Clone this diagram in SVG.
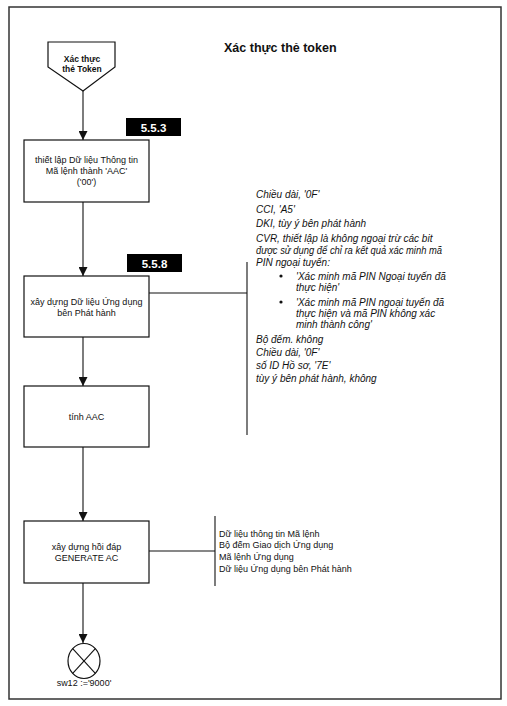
<svg xmlns="http://www.w3.org/2000/svg" width="507" height="706" viewBox="0 0 507 706">
<defs>
<style>
.ln{stroke:#111;stroke-width:1.1;fill:none}
.box{fill:#fff;stroke:#111;stroke-width:1.2}
.t{font-family:"Liberation Sans",Arial,sans-serif;font-size:9px;fill:#111}
.c{text-anchor:middle}
.it{font-family:"Liberation Sans",Arial,sans-serif;font-size:10px;font-style:italic;fill:#111}
.b{font-family:"Liberation Sans",Arial,sans-serif;font-weight:bold;fill:#111}
.lab{fill:#000}
.labt{font-family:"Liberation Sans",Arial,sans-serif;font-weight:bold;font-size:11.5px;fill:#fff;text-anchor:middle}
</style>
<marker id="ah" viewBox="0 0 10 10" refX="10" refY="5" markerWidth="9" markerHeight="9" markerUnits="userSpaceOnUse" orient="auto">
<path d="M0,0 L10,5 L0,10 z" fill="#111"/>
</marker>
</defs>
<rect x="0" y="0" width="507" height="706" fill="#fff"/>
<rect x="9" y="7" width="492" height="692" fill="none" stroke="#333" stroke-width="1.5"/>
<text class="b" x="224" y="52" font-size="12.5">Xác thực thẻ token</text>

<g id="connectors">
<line class="ln" x1="83" y1="91" x2="83" y2="140" marker-end="url(#ah)"/>
<line class="ln" x1="83" y1="202" x2="83" y2="276" marker-end="url(#ah)"/>
<line class="ln" x1="83" y1="337" x2="83" y2="386" marker-end="url(#ah)"/>
<line class="ln" x1="83" y1="447" x2="83" y2="521" marker-end="url(#ah)"/>
<line class="ln" x1="83" y1="583" x2="83" y2="643" marker-end="url(#ah)"/>
<line class="ln" x1="149" y1="293" x2="247" y2="293"/>
<line class="ln" x1="247" y1="262" x2="247" y2="435"/>
<line class="ln" x1="149" y1="551" x2="215" y2="551"/>
<line class="ln" x1="215" y1="516" x2="215" y2="586"/>
</g>

<g id="start">
<polygon class="box" points="48,42 115,42 115,67 83,91 48,67"/>
<text class="b c" x="82" y="62" font-size="8.5">Xác thực</text>
<text class="b c" x="82" y="72" font-size="8.5">thẻ Token</text>
</g>

<g id="label553">
<rect class="lab" x="126" y="118" width="55" height="18"/>
<text class="labt" x="153.5" y="131.5">5.5.3</text>
</g>

<g id="box1">
<rect class="box" x="24" y="140" width="125" height="62"/>
<text class="t c" x="86.5" y="163">thiết lập Dữ liệu Thông tin</text>
<text class="t c" x="86.5" y="174">Mã lệnh thành 'AAC'</text>
<text class="t c" x="86.5" y="185">('00')</text>
</g>

<g id="label558">
<rect class="lab" x="127" y="254" width="55" height="18"/>
<text class="labt" x="154.5" y="267.5">5.5.8</text>
</g>

<g id="box2">
<rect class="box" x="24" y="276" width="125" height="61"/>
<text class="t c" x="86.5" y="304.5">xây dựng Dữ liệu Ứng dụng</text>
<text class="t c" x="86.5" y="315.5">bên Phát hành</text>
</g>

<g id="notes1">
<text class="it" x="256" y="198">Chiều dài, '0F'</text>
<text class="it" x="256" y="212.5">CCI, 'A5'</text>
<text class="it" x="256" y="227">DKI, tùy ý bên phát hành</text>
<text class="it" x="256" y="241.5">CVR, thiết lập là không ngoại trừ các bit</text>
<text class="it" x="256" y="253.5" textLength="186" lengthAdjust="spacingAndGlyphs">được sử dụng để chỉ ra kết quả xác minh mã</text>
<text class="it" x="256" y="265.5">PIN ngoại tuyến:</text>
<circle cx="281" cy="276" r="1.6" fill="#111"/>
<text class="it" x="296" y="279.5">'Xác minh mã PIN Ngoại tuyến đã</text>
<text class="it" x="296" y="290.5">thực hiện'</text>
<circle cx="281" cy="302" r="1.6" fill="#111"/>
<text class="it" x="296" y="305.5">'Xác minh mã PIN ngoại tuyến đã</text>
<text class="it" x="296" y="316.5">thực hiện và mã PIN không xác</text>
<text class="it" x="296" y="327.5">minh thành công'</text>
<text class="it" x="256" y="342.5">Bộ đếm. không</text>
<text class="it" x="256" y="355.5">Chiều dài, '0F'</text>
<text class="it" x="256" y="368.5">số ID Hồ sơ, '7E'</text>
<text class="it" x="256" y="381.5">tùy ý bên phát hành, không</text>
</g>

<g id="box3">
<rect class="box" x="24" y="386" width="125" height="61"/>
<text class="t c" x="86.5" y="420">tính AAC</text>
</g>

<g id="box4">
<rect class="box" x="24" y="521" width="125" height="62"/>
<text class="t c" x="86.5" y="549.5">xây dựng hồi đáp</text>
<text class="t c" x="86.5" y="560.5">GENERATE AC</text>
</g>

<g id="notes2">
<text class="t" x="219" y="536.5">Dữ liệu thông tin Mã lệnh</text>
<text class="t" x="219" y="547.5">Bộ đếm Giao dịch Ứng dụng</text>
<text class="t" x="219" y="559.5">Mã lệnh Ứng dụng</text>
<text class="t" x="219" y="571.5">Dữ liệu Ứng dụng bên Phát hành</text>
</g>

<g id="end">
<ellipse class="box" cx="84" cy="661" rx="16" ry="17.5"/>
<line class="ln" x1="72.7" y1="648.6" x2="95.3" y2="673.4"/>
<line class="ln" x1="95.3" y1="648.6" x2="72.7" y2="673.4"/>
<text class="t c" x="84" y="686">sw12 :='9000'</text>
</g>
</svg>
